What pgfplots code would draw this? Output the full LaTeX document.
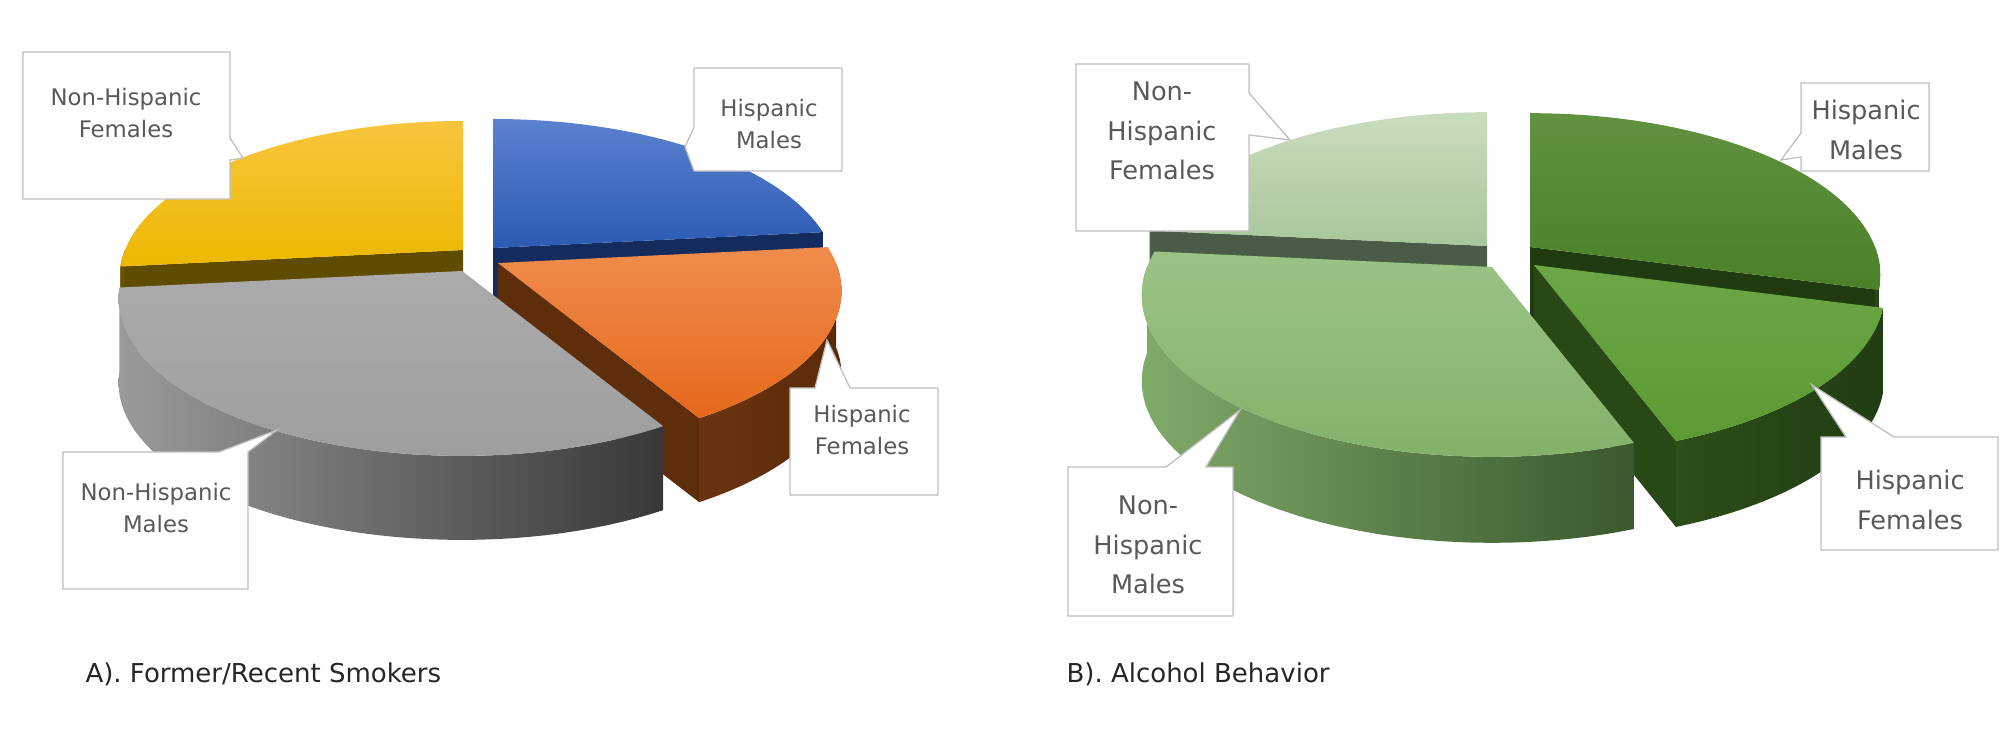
\documentclass[border=0pt]{standalone}
\usepackage{fontspec}
\setmainfont{DejaVu Sans}
\usepackage{pgfplots}
\usepackage{pgfplotstable}
\pgfplotsset{compat=1.18}

% shares (percent) of each group
\pgfplotstableread{
group  smokers alcohol
HM     23.3    29.2
HF     18.3    15.2
NHM    31.7    32.2
NHF    26.7    23.4
}\piedata

\pgfplotstablegetelem{0}{smokers}\of\piedata\pgfmathsetmacro\sHM{\pgfplotsretval}
\pgfplotstablegetelem{1}{smokers}\of\piedata\pgfmathsetmacro\sHF{\pgfplotsretval}
\pgfplotstablegetelem{2}{smokers}\of\piedata\pgfmathsetmacro\sNHM{\pgfplotsretval}
\pgfplotstablegetelem{3}{smokers}\of\piedata\pgfmathsetmacro\sNHF{\pgfplotsretval}
\pgfplotstablegetelem{0}{alcohol}\of\piedata\pgfmathsetmacro\aHM{\pgfplotsretval}
\pgfplotstablegetelem{1}{alcohol}\of\piedata\pgfmathsetmacro\aHF{\pgfplotsretval}
\pgfplotstablegetelem{2}{alcohol}\of\piedata\pgfmathsetmacro\aNHM{\pgfplotsretval}
\pgfplotstablegetelem{3}{alcohol}\of\piedata\pgfmathsetmacro\aNHF{\pgfplotsretval}
\pgfmathsetmacro\Aa{90}
\pgfmathsetmacro\Ab{\Aa-3.6*\sHM}
\pgfmathsetmacro\Ac{\Ab-3.6*\sHF}
\pgfmathsetmacro\Ad{\Ac-3.6*\sNHM}
\pgfmathsetmacro\Ae{\Ad-3.6*\sNHF}
\pgfmathsetmacro\Ba{90}
\pgfmathsetmacro\Bb{\Ba-3.6*\aHM}
\pgfmathsetmacro\Bc{\Bb-3.6*\aHF}
\pgfmathsetmacro\Bd{\Bc-3.6*\aNHM}
\pgfmathsetmacro\Be{\Bd-3.6*\aNHF}

% colours: T top light, B top dark, W cut wall, S1/S2 outer side
\definecolor{AhMT}{HTML}{5C81CF}\definecolor{AhMB}{HTML}{2C5BB3}\definecolor{AhMW}{HTML}{142B5E}
\definecolor{AhMS1}{HTML}{1E3C7A}\definecolor{AhMS2}{HTML}{142B5E}
\definecolor{AhFT}{HTML}{EF8C4C}\definecolor{AhFB}{HTML}{E5681B}\definecolor{AhFW}{HTML}{5E2D0C}
\definecolor{AhFS1}{HTML}{6A3412}\definecolor{AhFS2}{HTML}{5A2A08}
\definecolor{AnhMT}{HTML}{ABABAB}\definecolor{AnhMB}{HTML}{9E9E9E}\definecolor{AnhMW}{HTML}{555555}
\definecolor{AnhMS1}{HTML}{9A9A9A}\definecolor{AnhMS2}{HTML}{383838}
\definecolor{AnhFT}{HTML}{F8C43E}\definecolor{AnhFB}{HTML}{ECB800}\definecolor{AnhFW}{HTML}{5F4C00}
\definecolor{AnhFS1}{HTML}{6B5600}\definecolor{AnhFS2}{HTML}{5F4C00}

\definecolor{BhMT}{HTML}{619240}\definecolor{BhMB}{HTML}{4A8128}\definecolor{BhMW}{HTML}{1F3B10}
\definecolor{BhMS1}{HTML}{2A4D17}\definecolor{BhMS2}{HTML}{1E3B0F}
\definecolor{BhFT}{HTML}{6CA646}\definecolor{BhFB}{HTML}{5C9A33}\definecolor{BhFW}{HTML}{284816}
\definecolor{BhFS1}{HTML}{2C4E19}\definecolor{BhFS2}{HTML}{213D12}
\definecolor{BnhMT}{HTML}{9BC386}\definecolor{BnhMB}{HTML}{83B16A}\definecolor{BnhMW}{HTML}{4B6B3C}
\definecolor{BnhMS1}{HTML}{80AA6A}\definecolor{BnhMS2}{HTML}{3A582D}
\definecolor{BnhFT}{HTML}{C9DDBF}\definecolor{BnhFB}{HTML}{A9C69A}\definecolor{BnhFW}{HTML}{4B5C46}
\definecolor{BnhFS1}{HTML}{5A6E54}\definecolor{BnhFS2}{HTML}{4B5C46}
\definecolor{labeltext}{HTML}{595959}
\definecolor{boxline}{HTML}{BFBFBF}
\definecolor{captext}{HTML}{262626}

% #1 apex x, #2 apex y, #3 angle, #4 colour
\newcommand{\piewall}[4]{%
  \pgfmathsetmacro\wx{#1+\R*cos(#3)/(1+\pp*sin(#3))}%
  \pgfmathsetmacro\wy{#2-\Rk*sin(#3)/(1+\pp*sin(#3))}%
  \pgfmathsetmacro\wyb{\wy+\dd}%
  \pgfmathsetmacro\ayb{#2+\dd}%
  \fill[#4] (#1,#2) -- (\wx,\wy) -- (\wx,\wyb) -- (#1,\ayb) -- cycle;
}
% outer side between angles #3 < #4
\newcommand{\pieside}[6]{%
  \pgfmathsetmacro\tsum{#3+#4}%
  \pgfmathsetmacro\ayb{#2+\dd}%
  \shade[left color=#5, right color=#6]
    plot[domain=#3:#4, samples=50, variable=\t]
      ({#1+\R*cos(\t)/(1+\pp*sin(\t))}, {#2-\Rk*sin(\t)/(1+\pp*sin(\t))})
    -- plot[domain=#3:#4, samples=50, variable=\t]
      ({#1+\R*cos(\tsum-(\t))/(1+\pp*sin(\tsum-(\t)))}, {\ayb-\Rk*sin(\tsum-(\t))/(1+\pp*sin(\tsum-(\t)))})
    -- cycle;
}
% #1 apex x, #2 apex y, #3 start angle (larger), #4 end angle, #5 colour prefix
\newcommand{\pieslice}[5]{%
  \pgfmathtruncatemacro\visE{cos(#4)>0.001}%
  \ifnum\visE=1 \piewall{#1}{#2}{#4}{#5W}\fi
  \pgfmathtruncatemacro\visS{cos(#3)<-0.001}%
  \ifnum\visS=1 \piewall{#1}{#2}{#3}{#5W}\fi
  \pgfmathsetmacro\tlo{max(#4,-180)}%
  \pgfmathsetmacro\thi{min(#3,0)}%
  \pgfmathtruncatemacro\visF{\thi>\tlo}%
  \ifnum\visF=1 \pieside{#1}{#2}{\tlo}{\thi}{#5S1}{#5S2}\fi
  \shade[top color=#5T, bottom color=#5B] (#1,#2) --
    plot[domain=#4:#3, samples=80, variable=\t]
      ({#1+\R*cos(\t)/(1+\pp*sin(\t))}, {#2-\Rk*sin(\t)/(1+\pp*sin(\t))}) -- cycle;
}

\begin{document}
\begin{tikzpicture}
\useasboundingbox (0,0) rectangle (2007pt,750pt);
\begin{axis}[at={(0,0)}, anchor=south west, x=1pt, y=1pt,
  xmin=0, xmax=2007, ymin=0, ymax=750, y dir=reverse,
  hide axis, clip=false, enlargelimits=false]
\pgfplotsextra{%
  % ---------- A) Former/Recent Smokers ----------
  \def\R{338}\def\Rk{152}\def\pp{0.178}\def\dd{84}%
  \pieslice{463}{250}{\Ad}{\Ae}{AnhF}%
  \pieslice{493}{248}{\Aa}{\Ab}{AhM}%
  \pieslice{498}{263}{\Ab}{\Ac}{AhF}%
  \pieslice{462}{271}{\Ac}{\Ad}{AnhM}%
  % ---------- B) Alcohol Behavior ----------
  \def\R{345}\def\Rk{157}\def\pp{0.173}\def\dd{86}%
  \pieslice{1487}{246}{\Bd}{\Be}{BnhF}%
  \pieslice{1530}{247}{\Ba}{\Bb}{BhM}%
  \pieslice{1534}{265}{\Bb}{\Bc}{BhF}%
  \pieslice{1492}{267}{\Bc}{\Bd}{BnhM}%
  % ---------- callouts A ----------
  \filldraw[fill=white, draw=boxline, line width=1.3pt, line join=miter]
    (23,52) -- (230,52) -- (230,138) -- (243,158) -- (230,160) -- (230,199) -- (23,199) -- cycle;
  \filldraw[fill=white, draw=boxline, line width=1.3pt]
    (694,68) -- (842,68) -- (842,171) -- (694,171) -- (685,147) -- (694,127) -- cycle;
  \filldraw[fill=white, draw=boxline, line width=1.3pt]
    (790,388) -- (815,388) -- (827,340) -- (850,388) -- (938,388) -- (938,495) -- (790,495) -- cycle;
  \filldraw[fill=white, draw=boxline, line width=1.3pt]
    (63,452) -- (219,452) -- (277,430) -- (248,452) -- (248,589) -- (63,589) -- cycle;
  \begin{scope}[every node/.style={font=\fontsize{22.8}{32}\selectfont, text=labeltext, align=center}]
    \node at (126,113) {Non-Hispanic\\Females};
    \node at (769,124) {Hispanic\\Males};
    \node at (862,430) {Hispanic\\Females};
    \node at (156,508) {Non-Hispanic\\Males};
  \end{scope}
  % ---------- callouts B ----------
  \filldraw[fill=white, draw=boxline, line width=1.3pt]
    (1076,64) -- (1249,64) -- (1249,93) -- (1290,140) -- (1249,135) -- (1249,231) -- (1076,231) -- cycle;
  \filldraw[fill=white, draw=boxline, line width=1.3pt]
    (1801,83) -- (1929,83) -- (1929,171) -- (1801,171) -- (1801,157) -- (1781,160) -- (1801,133) -- cycle;
  \filldraw[fill=white, draw=boxline, line width=1.3pt]
    (1821,437) -- (1846,437) -- (1812,385) -- (1894,437) -- (1998,437) -- (1998,550) -- (1821,550) -- cycle;
  \filldraw[fill=white, draw=boxline, line width=1.3pt]
    (1068,467) -- (1166,467) -- (1240,410) -- (1206,467) -- (1233,467) -- (1233,616) -- (1068,616) -- cycle;
  \begin{scope}[every node/.style={font=\fontsize{25.6}{39.5}\selectfont, text=labeltext, align=center}]
    \node at (1162,131) {Non-\\Hispanic\\Females};
    \node at (1866,130) {Hispanic\\Males};
    \node at (1910,500) {Hispanic\\Females};
    \node at (1148,545) {Non-\\Hispanic\\Males};
  \end{scope}
  % ---------- captions ----------
  \node[anchor=base west, font=\fontsize{26}{30}\selectfont, text=captext] at (82,682) {A). Former/Recent Smokers};
  \node[anchor=base west, font=\fontsize{26}{30}\selectfont, text=captext] at (1063,682) {B). Alcohol Behavior};
}
\end{axis}
\end{tikzpicture}
\end{document}
